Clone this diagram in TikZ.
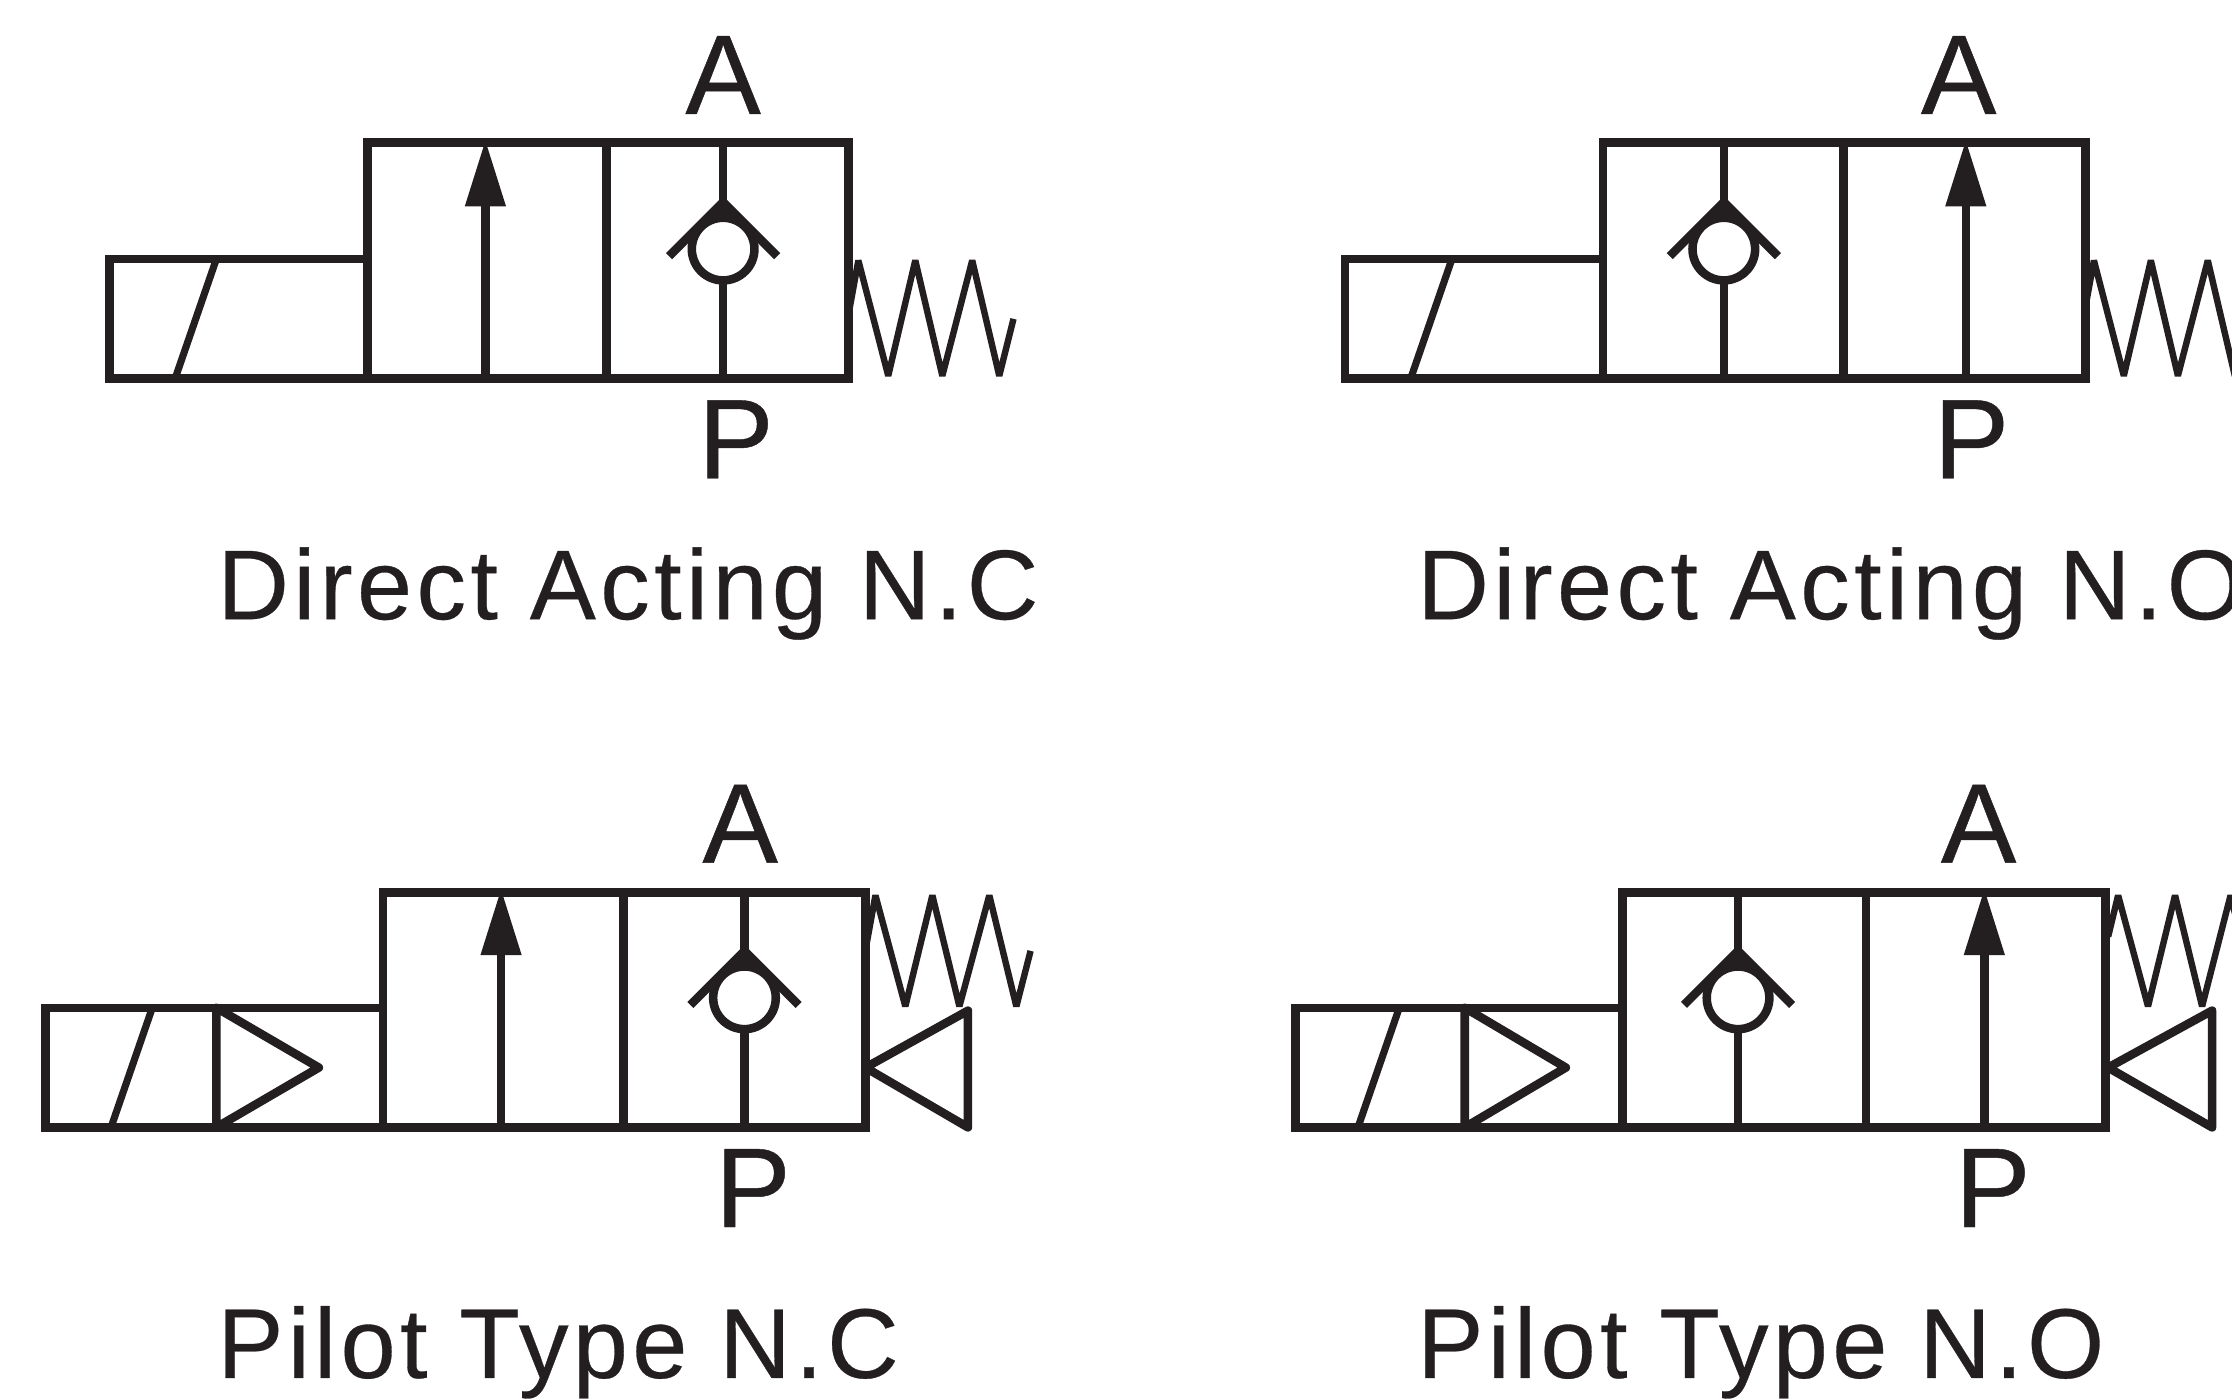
\documentclass[tikz,border=0pt]{standalone}
\usepackage{fontspec}
\setmainfont{Liberation Sans}[FakeBold=0.4]
\newfontfamily\capfont[LetterSpace=4.4,FakeBold=0.3]{Liberation Sans}
\definecolor{ink}{HTML}{231F20}
\tikzset{
  x=0.01cm,y=-0.01cm,
  symline/.style={draw=ink,line width=0.06cm,line join=miter},
  thinline/.style={draw=ink,line width=0.05cm,line join=miter},
  springline/.style={draw=ink,line width=0.045cm,line join=bevel},
  port/.style={font=\fontsize{22.6pt}{24pt}\selectfont,text=ink,inner sep=0pt,anchor=base},
  caption/.style={font=\capfont\fontsize{19.8pt}{22pt}\selectfont,text=ink,inner sep=0pt,anchor=base west},
  checkvalve/.pic={
    \draw[symline] (0,-75) -- (0,-30);
    \draw[symline] (0,22) -- (0,91);
    \fill[ink] (0,-36) -- (13,-20) -- (-13,-20) -- cycle;
    \draw[symline,fill=white] (0,0) circle [radius=22];
    \draw[symline] (-38,5) -- (0,-33) -- (38,5);
  },
  flowarrow/.pic={
    \draw[symline] (0,0) -- (0,-125);
    \fill[ink] (0,-167) -- (14.5,-121) -- (-14.5,-121) -- cycle;
  },
}
\begin{document}
\begin{tikzpicture}
\useasboundingbox (0,0) rectangle (1568,983);
\clip (0,0) rectangle (1568,983);
\fill[white] (0,0) rectangle (1568,983);
% Direct Acting N.C
\draw[symline] (258,100) rectangle (596,266);
\draw[symline] (258,182) -- (77,182) -- (77,266) -- (258,266);
\draw[symline] (426,100) -- (426,266);
\draw[thinline] (123,266) -- (152,182);
\pic at (341,266) {flowarrow};
\pic at (508,175) {checkvalve};
\draw[springline] (597,216) -- (603,183) -- (624,264) -- (643,183) -- (662,264) -- (683,183) -- (702,264) -- (712,224);
\node[port] (a1) at (508,80) {A};
\node[port] (p1) at (517,336) {P};
\node[caption] (c1) at (152,435) {Direct Acting N.C};
% Direct Acting N.O
\draw[symline] (1126,100) rectangle (1465,266);
\draw[symline] (1126,182) -- (945,182) -- (945,266) -- (1126,266);
\draw[symline] (1295,100) -- (1295,266);
\draw[thinline] (991,266) -- (1020,182);
\pic at (1211,175) {checkvalve};
\pic at (1381,266) {flowarrow};
\draw[springline] (1465,216) -- (1471,183) -- (1492,264) -- (1511,183) -- (1530,264) -- (1551,183) -- (1570,264) -- (1580,224);
\node[port] (a2) at (1376,80) {A};
\node[port] (p2) at (1385,336) {P};
\node[caption] (c2) at (995,435) {Direct Acting N.O};
% Pilot Type N.C
\draw[symline] (269,627) rectangle (608,792);
\draw[symline] (269,708) -- (32,708) -- (32,792) -- (269,792);
\draw[symline] (438,627) -- (438,792);
\draw[thinline] (78,792) -- (107,708);
\draw[symline,line join=round] (152,708) -- (224,750) -- (152,792) -- cycle;
\pic at (352,792) {flowarrow};
\pic at (523,701) {checkvalve};
\draw[springline] (609,662) -- (615,629) -- (636,707) -- (655,629) -- (674,707) -- (695,629) -- (714,707) -- (724,668);
\draw[symline,line join=round] (608,750) -- (680,710) -- (680,792) -- cycle;
\node[port] (a3) at (520,606) {A};
\node[port] (p3) at (529,862) {P};
\node[caption] (c3) at (152,968) {Pilot Type N.C};
% Pilot Type N.O
\draw[symline] (1140,627) rectangle (1479,792);
\draw[symline] (1140,708) -- (910,708) -- (910,792) -- (1140,792);
\draw[symline] (1311,627) -- (1311,792);
\draw[thinline] (954,792) -- (983,708);
\draw[symline,line join=round] (1029,708) -- (1100,750) -- (1029,792) -- cycle;
\pic at (1221,701) {checkvalve};
\pic at (1394,792) {flowarrow};
\draw[springline] (1481,658) -- (1488,629) -- (1509,707) -- (1528,629) -- (1547,707) -- (1567,629) -- (1586,707) -- (1596,668);
\draw[symline,line join=round] (1481,750) -- (1554,710) -- (1554,792) -- cycle;
\node[port] (a4) at (1390,606) {A};
\node[port] (p4) at (1400,862) {P};
\node[caption] (c4) at (995,968) {Pilot Type N.O};
\end{tikzpicture}
\end{document}
